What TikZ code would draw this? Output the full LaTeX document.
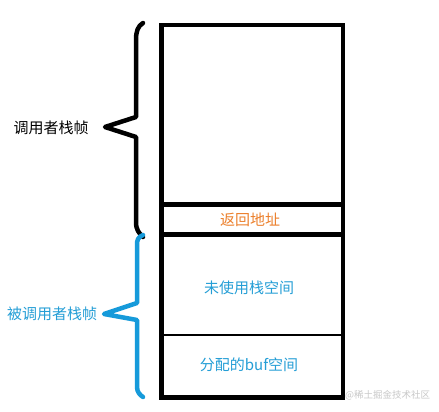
\documentclass[tikz,border=0pt]{standalone}
\usepackage{fontspec}
\newfontfamily\cjk{Noto Sans CJK SC}
\definecolor{calleeblue}{RGB}{22,154,218}
\definecolor{textblue}{RGB}{36,158,214}
\definecolor{addrorange}{RGB}{236,128,44}
\definecolor{wmgray}{RGB}{200,200,200}
\tikzset{
  heavy/.style={line width=4.5pt, line cap=rect, line join=miter},
  light/.style={line width=1.2pt},
  bracepath/.style={line width=4.5pt, line cap=round, line join=round},
  lbl/.style={font=\cjk\fontsize{15}{18}\selectfont, inner sep=0pt, anchor=center},
  wm/.style={font=\cjk\fontsize{9.5}{11}\selectfont, text=wmgray, inner sep=0pt, anchor=west}
}
\begin{document}
\begin{tikzpicture}[x=1pt,y=-1pt]
\useasboundingbox (0,0) rectangle (439,412);
\fill[white] (0,0) rectangle (439,412);
% stack frame corners
\coordinate (tl) at (161.5,25);
\coordinate (br) at (343,397.5);
\coordinate (s1l) at (161.5,204.5);
\coordinate (s1r) at (343,204.5);
\coordinate (s2l) at (161.5,234.5);
\coordinate (s2r) at (343,234.5);
\coordinate (s3l) at (161.5,335);
\coordinate (s3r) at (343,335);
\draw[heavy] (tl) rectangle (br);
\draw[heavy] (s1l) -- (s1r);
\draw[heavy] (s2l) -- (s2r);
\draw[light] (s3l) -- (s3r);
% labels inside
\node[lbl, text=addrorange] (ret) at (250,220) {返回地址};
\node[lbl, text=textblue] (unused) at (249,288) {未使用栈空间};
\node[lbl, text=textblue] (buf) at (249,365) {分配的buf空间};
% caller brace
\draw[bracepath, black] (143,23) .. controls (138,26) and (136,31) .. (136,40)
  -- (136,117) -- (105,127) -- (136,137) -- (136,222)
  .. controls (136,230) and (139,233) .. (143,237);
\node[lbl, text=black] (caller) at (51,128) {调用者栈帧};
% callee brace
\draw[bracepath, calleeblue] (143,235) .. controls (138,237) and (137,240) .. (137,245)
  -- (137,303) -- (104,314) -- (137,320) -- (137,387)
  .. controls (137,392) and (140,395) .. (143,397);
\node[lbl, text=textblue] (callee) at (52,314) {被调用者栈帧};
% watermark
\node[wm] (mark) at (345,395) {@稀土掘金技术社区};
\end{tikzpicture}
\end{document}
